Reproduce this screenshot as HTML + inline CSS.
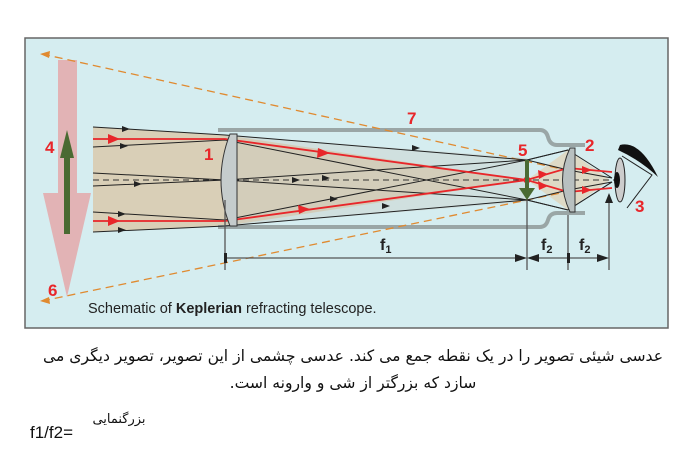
<!DOCTYPE html>
<html><head><meta charset="utf-8"><style>
html,body{margin:0;padding:0;background:#fff;width:695px;height:463px;overflow:hidden}
.fa{font-family:"Liberation Sans","DejaVu Sans",sans-serif}
</style></head><body>
<svg width="695" height="463" xmlns="http://www.w3.org/2000/svg" style="position:absolute;left:0;top:0">
<rect x="25" y="38" width="643" height="290" fill="#d5edf0" stroke="#666" stroke-width="1.5"/>
<polygon points="93,127 225,135 527,180 225,226 93,232" fill="#d9cbb0" opacity="0.9"/>
<polygon points="225,135 527,158 527,202 225,226" fill="#c9c9c0" opacity="0.35"/>
<polygon points="527,180 568,150 610,180 568,210" fill="#e0d4bb" opacity="0.8"/>
<rect x="58" y="60" width="19" height="135" fill="#e2b3b5"/>
<polygon points="43,193 91,193 67,297" fill="#e2b3b5"/>
<rect x="64" y="148" width="6" height="86" fill="#4a6a32"/>
<polygon points="60,158 74,158 67,130" fill="#4a6a32"/>
<path d="M218,130 L540,130 Q546,130 548,137 Q550,145 557,145 L585,145" fill="none" stroke="#9aa6a6" stroke-width="4"/>
<path d="M218,227 L540,227 Q546,227 548,220 Q550,213 557,213 L585,213" fill="none" stroke="#9aa6a6" stroke-width="4"/>
<line x1="42" y1="54" x2="575" y2="172" stroke="#e08a30" stroke-width="1.3" stroke-dasharray="8,5"/>
<line x1="42" y1="301" x2="575" y2="190" stroke="#e08a30" stroke-width="1.3" stroke-dasharray="8,5"/>
<polygon points="40,54 50,51 49,58" fill="#e08a30"/>
<polygon points="40,301 49,297 50,304" fill="#e08a30"/>
<line x1="93" y1="180" x2="615" y2="180" stroke="#333" stroke-width="1" stroke-dasharray="6,4"/>
<g stroke="#222" stroke-width="1" fill="none">
<path d="M93,127 L225,135 L527,160 L568,150 L612,178"/>
<path d="M93,147 L225,140 L527,200 L568,210 L612,182"/>
<path d="M93,173 L225,180 L527,160"/>
<path d="M93,186 L225,180 L527,200"/>
<path d="M93,212 L225,220 L527,160 L568,150"/>
<path d="M93,232 L225,226 L527,200 L568,210 L612,182"/>
<path d="M527,160 L568,170 L612,178"/>
<path d="M527,200 L568,190 L612,182"/>
</g>
<g fill="#222">
<polygon points="130,129 122,126 122,132"/><polygon points="420,148 412,145 412,151"/>
<polygon points="128,146 120,143 120,149"/><polygon points="330,178 322,175 322,181"/>
<polygon points="142,184 134,181 134,187"/><polygon points="300,180 292,177 292,183"/>
<polygon points="126,214 118,211 118,217"/><polygon points="338,199 330,196 330,202"/>
<polygon points="126,230 118,227 118,233"/><polygon points="390,206 382,203 382,209"/>
</g>
<g stroke="#e8262a" stroke-width="1.8" fill="none">
<path d="M93,139 L225,139 L527,180 L568,168 L612,172"/>
<path d="M93,221 L225,221 L527,180 L568,192 L612,188"/>
</g>
<g fill="#e8262a">
<polygon points="120,139 108,134 108,144"/><polygon points="120,221 108,216 108,226"/>
<polygon points="330,153 318,148 317,158"/><polygon points="310,209 298,205 299,214"/>
<polygon points="548,174 538,170 539,179"/><polygon points="548,186 538,181 539,190"/>
<polygon points="592,170 582,166 582,174"/><polygon points="592,190 582,186 582,194"/>
<circle cx="527" cy="180" r="3.5"/>
</g>
<rect x="525" y="160" width="4" height="30" fill="#4a6a32"/>
<polygon points="519,188 535,188 527,200" fill="#4a6a32"/>
<path d="M230,134 Q212,180 230,226 L237,226 L237,134 Z" fill="#c5cccc" stroke="#333" stroke-width="1"/>
<path d="M570,148 Q555,180 570,212 L575,212 L575,148 Z" fill="#b8c0c0" stroke="#333" stroke-width="1"/>
<ellipse cx="620" cy="180" rx="5" ry="22" fill="#ccc" stroke="#222"/>
<ellipse cx="617" cy="180" rx="3" ry="8" fill="#111"/>
<path d="M622,156 L652,175 L627,208" fill="none" stroke="#222" stroke-width="1"/>
<path d="M620,145 Q640,140 658,177 Q640,160 618,150z" fill="#111"/>
<g stroke="#555" stroke-width="1.3">
<line x1="225" y1="200" x2="225" y2="270"/>
<line x1="527" y1="200" x2="527" y2="270"/>
<line x1="568" y1="215" x2="568" y2="270"/>
<line x1="609" y1="195" x2="609" y2="270"/>
<line x1="225" y1="258" x2="520" y2="258"/>
<line x1="534" y1="258" x2="602" y2="258"/>
</g>
<rect x="224" y="253" width="3" height="10" fill="#222"/>
<rect x="567" y="253" width="3" height="10" fill="#222"/>
<g fill="#222"><polygon points="527,258 515,254 515,262"/><polygon points="527,258 539,254 539,262"/><polygon points="609,258 597,254 597,262"/><polygon points="609,193 605,203 613,203"/></g>
<g class="fa" font-size="17" font-weight="bold" fill="#e8262a">
<text x="45" y="153">4</text><text x="204" y="160">1</text><text x="48" y="296">6</text>
<text x="407" y="124">7</text><text x="518" y="156">5</text><text x="585" y="151">2</text><text x="635" y="212">3</text>
</g>
<g class="fa" font-size="16" font-weight="bold" fill="#222">
<text x="380" y="250">f<tspan font-size="11" dy="3">1</tspan></text>
<text x="541" y="250">f<tspan font-size="11" dy="3">2</tspan></text>
<text x="579" y="250">f<tspan font-size="11" dy="3">2</tspan></text>
</g>
<text x="88" y="313" class="fa" font-size="14.5" fill="#222">Schematic of <tspan font-weight="bold">Keplerian</tspan> refracting telescope.</text>
<g font-family="'DejaVu Sans','Noto Sans CJK SC',sans-serif" font-size="15.6" fill="#111" text-anchor="middle" direction="rtl">
<text x="353" y="361">عدسی شیئی تصویر را در یک نقطه جمع می کند. عدسی چشمی از این تصویر، تصویر دیگری می</text>
<text x="353" y="388">سازد که بزرگتر از شی و وارونه است.</text>
<text x="119" y="423" font-size="13">بزرگنمایی</text>
</g>
<text x="30" y="438" class="fa" font-size="17" fill="#111">f1/f2=</text>
</svg>
</body></html>
